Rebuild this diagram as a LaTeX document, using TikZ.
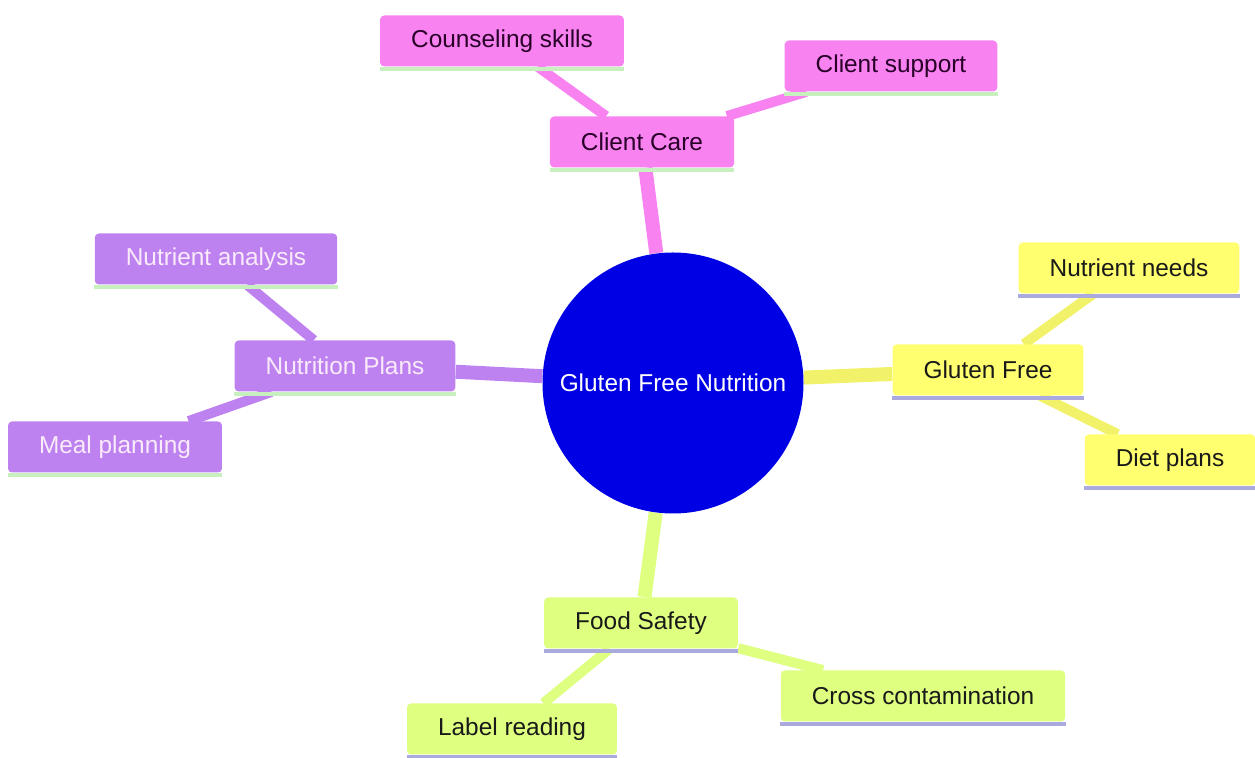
\documentclass[tikz,border=0pt]{standalone}
\usepackage{fontspec}
\setmainfont{Liberation Sans}
\usetikzlibrary{backgrounds}
\definecolor{pinkc}{RGB}{247,130,240}
\definecolor{purplec}{RGB}{190,130,240}
\definecolor{yellowc}{RGB}{255,255,112}
\definecolor{greenc}{RGB}{222,255,128}
\definecolor{bluec}{RGB}{0,0,228}
\definecolor{mintline}{RGB}{200,240,190}
\definecolor{lavline}{RGB}{170,170,222}
\begin{document}
\begin{tikzpicture}[x=0.5pt,y=-0.5pt,
    box/.style={rectangle,rounded corners=2pt,inner xsep=15.5pt,minimum height=25.5pt,
        font=\fontsize{12.2}{14}\selectfont,text=black!90},
    pinkbox/.style={box,fill=pinkc,text={rgb,255:red,40;green,0;blue,40}},
    purplebox/.style={box,fill=purplec,text={rgb,255:red,250;green,235;blue,250}},
    yellowbox/.style={box,fill=yellowc},
    greenbox/.style={box,fill=greenc},
    mainline/.style={line width=7pt},
    subline/.style={line width=5pt}]
    \useasboundingbox (0,0) rectangle (1255,758);
    \node [circle,fill=bluec,minimum size=130.5pt,inner sep=0pt,text=white,
        font=\fontsize{12.2}{14}\selectfont] (gfn) at (673,383) {Gluten Free Nutrition};
    \node [pinkbox] (care) at (642,142) {Client Care};
    \node [pinkbox] (couns) at (502,41) {Counseling skills};
    \node [pinkbox] (supp) at (891,66) {Client support};
    \node [yellowbox] (gf) at (988,370) {Gluten Free};
    \node [yellowbox] (needs) at (1129,268) {Nutrient needs};
    \node [yellowbox] (diet) at (1170,460) {Diet plans};
    \node [purplebox] (plans) at (345,366) {Nutrition Plans};
    \node [purplebox] (anal) at (216,259) {Nutrient analysis};
    \node [purplebox] (meal) at (115,447) {Meal planning};
    \node [greenbox] (safe) at (641,623) {Food Safety};
    \node [greenbox] (cross) at (923,696) {Cross contamination};
    \node [greenbox] (label) at (512,729) {Label reading};
    \begin{scope}[on background layer]
        \draw [mainline,pinkc] (gfn) -- (care);
        \draw [subline,pinkc] (care) -- (couns);
        \draw [subline,pinkc] (care) -- (supp);
        \draw [mainline,yellowc!95!black] (gfn) -- (gf);
        \draw [subline,yellowc!95!black] (gf) -- (needs);
        \draw [subline,yellowc!95!black] (gf) -- (diet);
        \draw [mainline,purplec] (gfn) -- (plans);
        \draw [subline,purplec] (plans) -- (anal);
        \draw [subline,purplec] (plans) -- (meal);
        \draw [mainline,greenc] (gfn) -- (safe);
        \draw [subline,greenc] (safe) -- (cross);
        \draw [subline,greenc] (safe) -- (label);
    \end{scope}
    \foreach \n in {care,couns,supp,plans,anal,meal}
        \draw [mintline,line width=2pt] ([yshift=-1pt]\n.south west) -- ([yshift=-1pt]\n.south east);
    \foreach \n in {gf,needs,diet,safe,cross,label}
        \draw [lavline,line width=2pt] ([yshift=-1pt]\n.south west) -- ([yshift=-1pt]\n.south east);
\end{tikzpicture}
\end{document}
